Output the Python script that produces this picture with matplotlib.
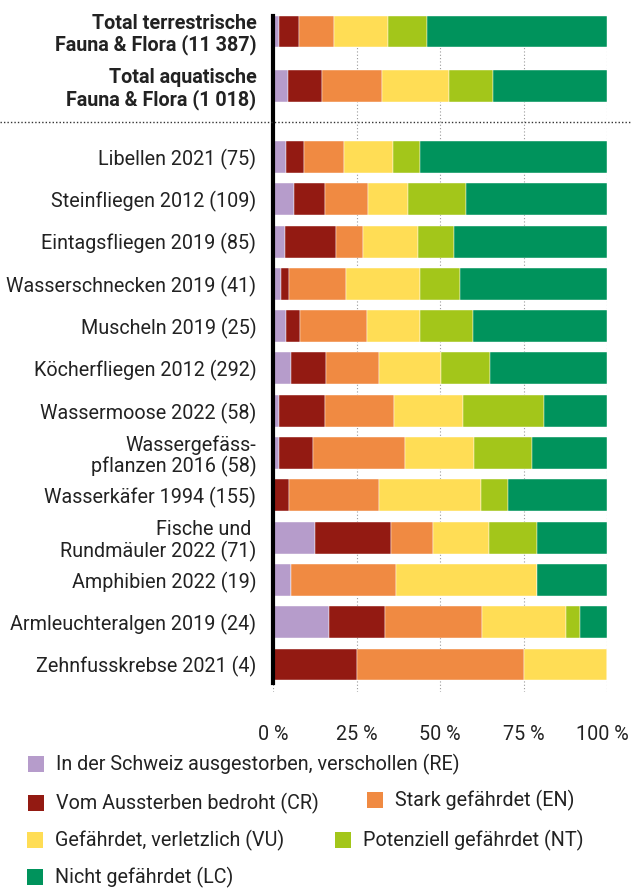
import matplotlib
matplotlib.use("Agg")
import matplotlib.pyplot as plt
import matplotlib.transforms as mtransforms
from matplotlib.lines import Line2D
from matplotlib.patches import Rectangle
import numpy as np

plt.rcParams["font.family"] = ["Roboto", "DejaVu Sans"]

# --- data (percent of assessed species per category) ---
groups = [
    "Total terrestrische\nFauna & Flora (11 387)",
    "Total aquatische\nFauna & Flora (1 018)",
    "Libellen 2021 (75)",
    "Steinfliegen 2012 (109)",
    "Eintagsfliegen 2019 (85)",
    "Wasserschnecken 2019 (41)",
    "Muscheln 2019 (25)",
    "Köcherfliegen 2012 (292)",
    "Wassermoose 2022 (58)",
    "Wassergefäss-\npflanzen 2016 (58)",
    "Wasserkäfer 1994 (155)",
    "Fische und \nRundmäuler 2022 (71)",
    "Amphibien 2022 (19)",
    "Armleuchteralgen 2019 (24)",
    "Zehnfusskrebse 2021 (4)",
]
re_vals = [1.8, 4.6, 4.0, 6.4, 3.5, 2.4, 4.0, 5.5, 1.7, 1.7, 0.0, 12.7, 5.3, 16.7, 0.0]
cr_vals = [6.0, 10.1, 5.3, 9.2, 15.3, 2.4, 4.0, 10.3, 13.8, 10.3, 4.8, 22.5, 0.0, 16.7, 25.0]
en_vals = [10.5, 17.8, 12.0, 12.8, 8.2, 17.1, 20.0, 15.8, 20.7, 27.6, 27.0, 12.7, 31.6, 29.2, 50.0]
vu_vals = [16.0, 20.3, 14.7, 11.9, 16.5, 22.0, 16.0, 18.8, 20.7, 20.7, 30.6, 16.9, 42.1, 25.0, 25.0]
nt_vals = [11.7, 13.0, 8.0, 17.4, 10.6, 12.2, 16.0, 14.7, 24.1, 17.2, 7.9, 14.1, 0.0, 4.2, 0.0]
lc_vals = [54.0, 34.2, 56.0, 42.3, 45.9, 43.9, 40.0, 34.9, 19.0, 22.5, 29.7, 21.1, 21.0, 8.2, 0.0]

series_labels = [
    "In der Schweiz ausgestorben, verschollen (RE)",
    "Vom Aussterben bedroht (CR)",
    "Stark gefährdet (EN)",
    "Gefährdet, verletzlich (VU)",
    "Potenziell gefährdet (NT)",
    "Nicht gefährdet (LC)",
]
colors = ["#B69CCB", "#931A12", "#F08A42", "#FFDD55", "#A3C61A", "#00935C"]
xticks = [0, 25, 50, 75, 100]
xtick_labels = ["0 %", "25 %", "50 %", "75 %", "100 %"]

# --- layout ---
W, H = 631, 889
TEXT = "#222222"
FS = 14.2

y_pos = np.array([-2.967, -1.678] + list(range(13)), dtype=float)
bar_h = 0.756
top = y_pos[0] - bar_h / 2
bottom = 12.65

fig = plt.figure(figsize=(W / 100, H / 100), dpi=100)
ax_top_px = 157 + top * 42.3
ax = fig.add_axes([273 / W, 1 - 692 / H, (607 - 273) / W, (692 - ax_top_px) / H])

series = [re_vals, cr_vals, en_vals, vu_vals, nt_vals, lc_vals]
left = np.zeros(len(groups))
for vals, col in zip(series, colors):
    vals = np.array(vals)
    ax.barh(y_pos, vals, left=left, height=bar_h, color=col,
            edgecolor="white", linewidth=0.3, zorder=3)
    left += vals

ax.set_ylim(bottom, top)
ax.set_xlim(0, 100)

ax.set_yticks(y_pos)
ax.set_yticklabels(groups, fontsize=FS, color=TEXT, linespacing=1.1)
for lbl in ax.get_yticklabels()[:2]:
    lbl.set_fontweight("bold")
ax.set_xticks(xticks)
ax.set_xticklabels(xtick_labels, fontsize=FS, color=TEXT)
ax.tick_params(axis="y", length=0, pad=12)
ax.tick_params(axis="x", length=0, pad=24)
last = ax.get_xticklabels()[-1]
last.set_transform(last.get_transform() +
                   mtransforms.ScaledTranslation(-5 / 100, 0, fig.dpi_scale_trans))

for s in ax.spines.values():
    s.set_visible(False)
ax.grid(axis="x", color="#9a9a9a", linewidth=0.8, linestyle=(0, (1, 2)), zorder=0)
ax.set_axisbelow(True)

# thick black baseline at 0 %
ax.plot([0, 0], [top, 12.43], color="black", linewidth=3, clip_on=False, zorder=5)

# dotted separator between totals and groups
sep_y = 1 - 122 / H
fig.add_artist(Line2D([0, 1], [sep_y, sep_y], transform=fig.transFigure,
                      color="#333333", linewidth=1, linestyle=(0, (1, 1.5))))

# --- legend (manual) ---
legend_pos = [(28, 764), (28, 803), (367, 800), (27, 840), (335, 840), (27, 877)]
box = 16
for (px, py), lab, col in zip(legend_pos, series_labels, colors):
    fig.add_artist(Rectangle((px / W, 1 - (py + box / 2) / H), box / W, box / H,
                             transform=fig.transFigure, facecolor=col,
                             edgecolor="none"))
    fig.text((px + 28) / W, 1 - py / H, lab, fontsize=FS, color=TEXT,
             ha="left", va="center")

fig.savefig("out.png", dpi=100)
